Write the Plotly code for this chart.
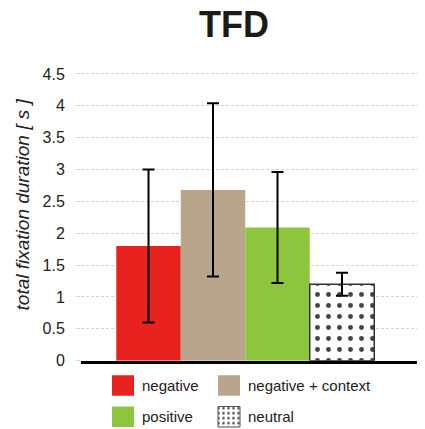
import plotly.graph_objects as go

categories = ["negative", "negative + context", "positive", "neutral"]
means = [1.80, 2.68, 2.09, 1.20]
errors = [1.20, 1.36, 0.87, 0.18]
colors = ["#E8221F", "#B8A58B", "#8DC53E", "#FFFFFF"]
patterns = ["", "", "", "."]
tick_vals = [0, 0.5, 1, 1.5, 2, 2.5, 3, 3.5, 4, 4.5]
tick_text = ["0", "0.5", "1", "1.5", "2", "2.5", "3", "3.5", "4", "4.5"]

FONT = "Liberation Sans, Arial, Helvetica, sans-serif"
# the page shows the figure shifted 8px to the right
XSHIFT = 8
W, H = 425, 429
PL, PT = 81, 50          # plot-area left / top in window px
plot_bottom_px = 360
leg_frac = (H - plot_bottom_px) / (H - PT)

fig = go.Figure()
fig.add_trace(go.Bar(
    x=list(range(len(categories))), y=means, width=1,
    marker=dict(color=colors,
                line=dict(color=["rgba(0,0,0,0)"] * 3 + ["#333333"], width=[0, 0, 0, 1.5]),
                pattern=dict(shape=patterns, fgcolor="black", fgopacity=1, size=11, solidity=0.16)),
    error_y=dict(type="data", array=errors, visible=True, color="black", thickness=2, width=6),
    showlegend=False, xaxis="x", yaxis="y",
))

# custom legend (swatches drawn in a hidden pixel-scaled subplot)
leg_x = [123, 229, 123, 229]
leg_y = [375, 375, 407, 407]
leg_size = 21
fig.add_trace(go.Bar(
    x=leg_x, y=[leg_size] * 4, base=leg_y, width=22,
    marker=dict(color=colors,
                line=dict(color=["rgba(0,0,0,0)"] * 3 + ["#555555"], width=[0, 0, 0, 1]),
                pattern=dict(shape=patterns, fgcolor="#222222", fgopacity=1, size=5, solidity=0.2)),
    showlegend=False, xaxis="x2", yaxis="y2", hoverinfo="skip",
))
for i, name in enumerate(categories):
    fig.add_annotation(x=leg_x[i] + 17, y=leg_y[i] + leg_size / 2, xref="x2", yref="y2",
                       text=name, showarrow=False, xanchor="left", yanchor="middle",
                       font=dict(family=FONT, size=15, color="#222222"))

fig.add_annotation(x=(22 - PL) / (W - PL), y=(H - 200) / (H - PT), xref="paper", yref="paper",
                   text="total fixation duration [ s ]", showarrow=False, textangle=-90,
                   xanchor="center", yanchor="middle",
                   font=dict(family=FONT, size=19, color="#222222", style="italic"))

fig.update_layout(
    width=W, height=H, margin=dict(l=PL - XSHIFT, r=XSHIFT, t=PT, b=0),
    title=dict(text="<b>TFD</b>", x=(234 - XSHIFT) / W, xanchor="center", xref="container",
               y=1 - 4 / H, yanchor="top", yref="container",
               font=dict(family=FONT, size=36, color="#1a1a1a")),
    plot_bgcolor="white", paper_bgcolor="white", barmode="overlay",
    xaxis=dict(range=[-1.047, 4.287], showticklabels=False, showgrid=False, zeroline=False,
               showline=True, linecolor="black", linewidth=3, ticks="", anchor="y"),
    yaxis=dict(domain=[leg_frac, 1], range=[0, 4.75], tickvals=tick_vals, ticktext=tick_text,
               showgrid=True, gridcolor="#d4d4d4", griddash="3px,2px", gridwidth=1,
               zeroline=False, showline=False, ticks="outside", ticklen=4, tickcolor="#d4d4d4",
               tickfont=dict(family=FONT, size=16, color="#222222"), ticklabelstandoff=8),
    xaxis2=dict(domain=[0, 1], range=[PL, W], visible=False, anchor="y2"),
    yaxis2=dict(domain=[0, leg_frac], range=[H, plot_bottom_px], visible=False, anchor="x2"),
)

fig.write_html("out.html")
